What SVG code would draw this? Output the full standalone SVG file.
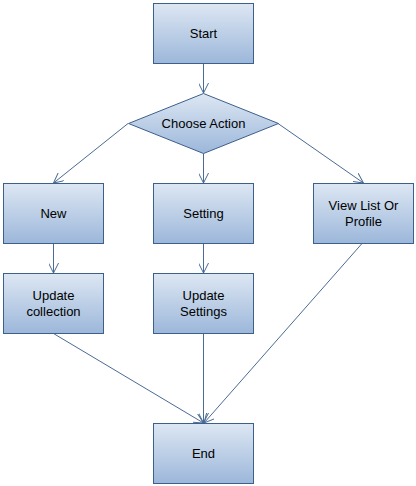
<svg xmlns="http://www.w3.org/2000/svg" width="416" height="486" viewBox="0 0 416 486">
<style>
.n{fill:url(#g);stroke:#3d5f8c;stroke-width:1}
.t{font-family:"Liberation Sans",Arial,sans-serif;font-size:13px;fill:#000;text-anchor:middle}
.c{fill:none;stroke:#4a6b94;stroke-width:1;marker-end:url(#a)}
</style>
<defs>
<linearGradient id="g" x1="0" y1="0" x2="0" y2="1">
<stop offset="0" stop-color="#dde7f3"/>
<stop offset="1" stop-color="#9cb7da"/>
</linearGradient>
<marker id="a" viewBox="0 0 10 10" refX="10" refY="5" markerWidth="10" markerHeight="10" markerUnits="userSpaceOnUse" orient="auto">
<path d="M0,0 L10,5 L0,10" fill="none" stroke="#4a6b94" stroke-width="1"/>
</marker>
</defs>
<rect width="416" height="486" fill="#fff"/>
<g id="connectors">
<path class="c" d="M203.5,63.5 L203.5,93"/>
<path class="c" d="M128,123.5 L53.5,183"/>
<path class="c" d="M203.5,153.5 L203.5,183"/>
<path class="c" d="M278,123.5 L363.5,183"/>
<path class="c" d="M53.5,243.5 L53.5,273"/>
<path class="c" d="M203.5,243.5 L203.5,273"/>
<path class="c" d="M53.5,333.5 L203.5,423"/>
<path class="c" d="M203.5,333.5 L203.5,423"/>
<path class="c" d="M362,243.5 L204,423"/>
</g>
<g id="start"><rect class="n" x="153.5" y="3.5" width="100" height="60"/><text class="t" x="203.5" y="38">Start</text></g>
<g id="choose"><path class="n" d="M203.5,93.5 L278.5,123.5 L203.5,153.5 L128.5,123.5 Z"/><text class="t" x="203.5" y="128">Choose Action</text></g>
<g id="new"><rect class="n" x="3.5" y="183.5" width="100" height="60"/><text class="t" x="53.5" y="218">New</text></g>
<g id="setting"><rect class="n" x="153.5" y="183.5" width="100" height="60"/><text class="t" x="203.5" y="218">Setting</text></g>
<g id="view"><rect class="n" x="313.5" y="183.5" width="100" height="60"/><text class="t" x="363.5" y="210">View List Or</text><text class="t" x="363.5" y="226">Profile</text></g>
<g id="updcol"><rect class="n" x="3.5" y="273.5" width="100" height="60"/><text class="t" x="53.5" y="300">Update</text><text class="t" x="53.5" y="316">collection</text></g>
<g id="updset"><rect class="n" x="153.5" y="273.5" width="100" height="60"/><text class="t" x="203.5" y="300">Update</text><text class="t" x="203.5" y="316">Settings</text></g>
<g id="end"><rect class="n" x="153.5" y="423.5" width="100" height="60"/><text class="t" x="203.5" y="458">End</text></g>
</svg>
